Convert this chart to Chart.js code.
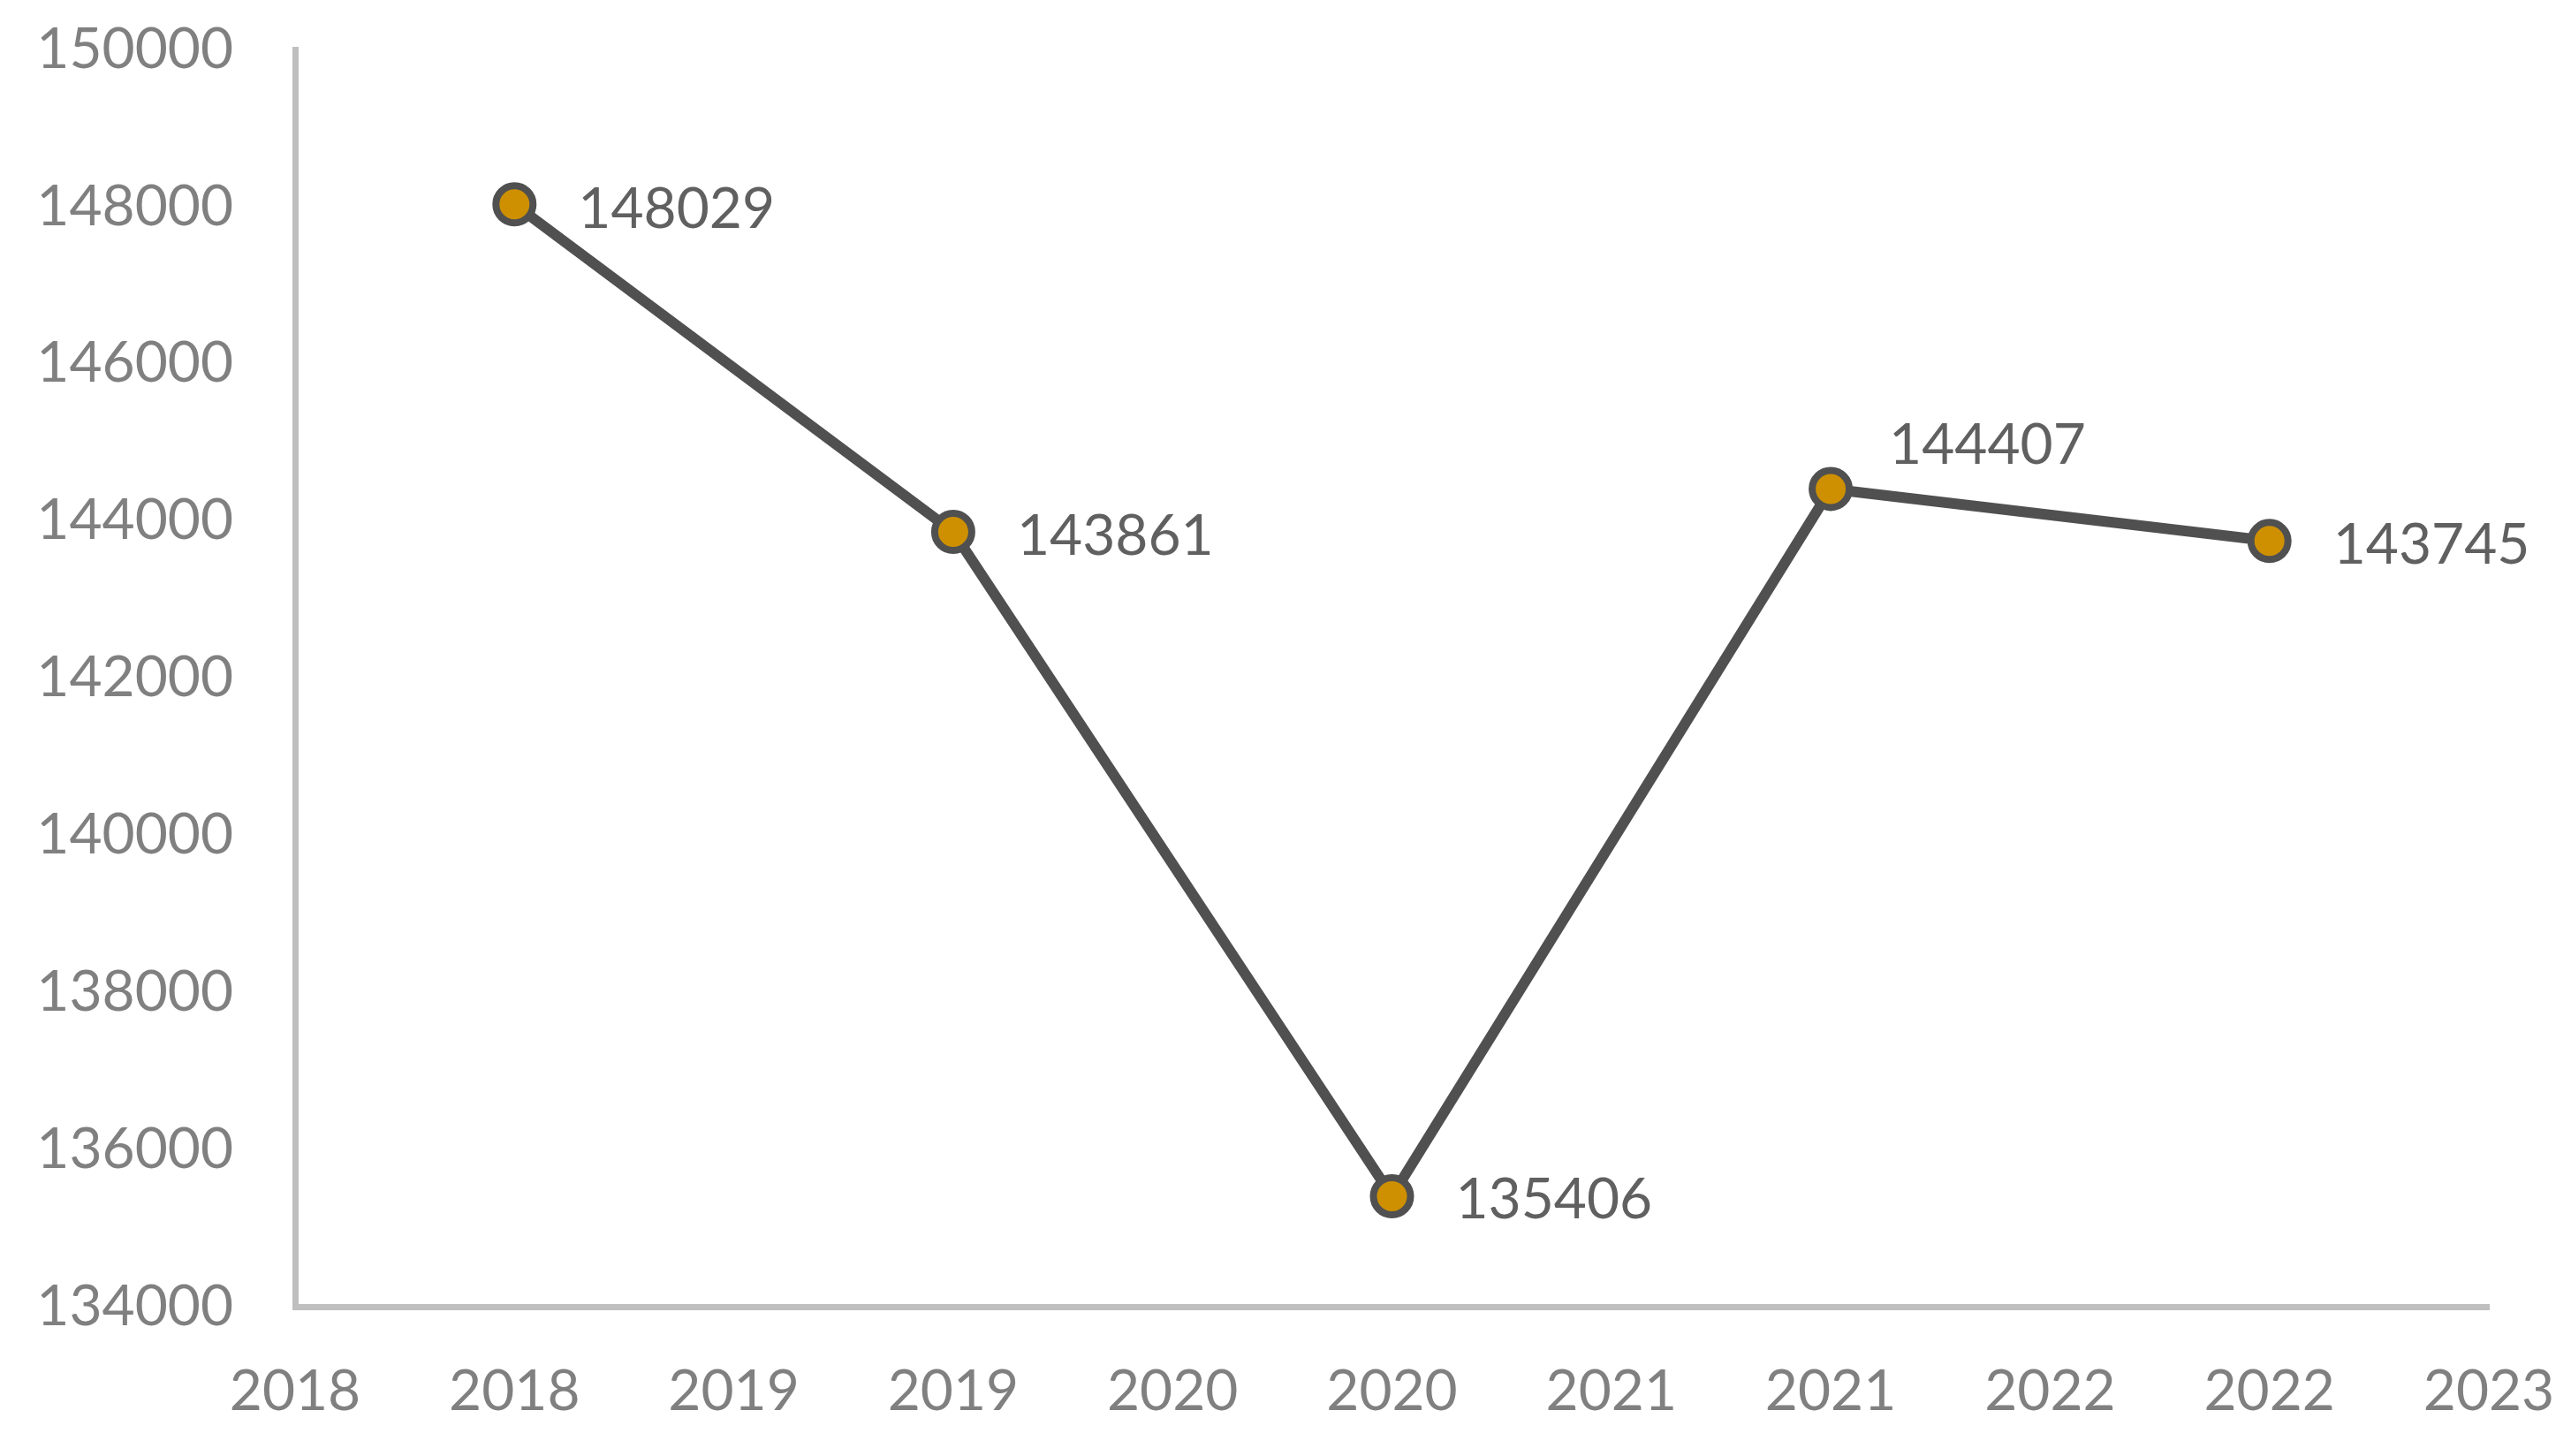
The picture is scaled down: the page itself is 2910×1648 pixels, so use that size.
<!DOCTYPE html>
<html>
<head>
<meta charset="utf-8">
<script src="https://cdn.jsdelivr.net/npm/chart.js@4.4.1/dist/chart.umd.min.js"></script>
<style>
  html, body { margin: 0; padding: 0; background: #ffffff; }
  #wrap { width: 2910px; height: 1648px; }
</style>
</head>
<body>
<div id="wrap"><canvas id="c" width="2910" height="1648"></canvas></div>
<script>
// ---- data ----
const years = [2018.5, 2019.5, 2020.5, 2021.5, 2022.5];
const values = [148029, 143861, 135406, 144407, 143745];
const xTickLabels = ["2018", "2018", "2019", "2019", "2020", "2020", "2021", "2021", "2022", "2022", "2023"];
const yMin = 134000, yMax = 150000, yStep = 2000;
const xMin = 2018, xMax = 2023, xStep = 0.5;

const points = years.map((x, i) => ({ x: x, y: values[i] }));

const FONT = "Lato, 'Open Sans', sans-serif";

const valueLabels = {
  id: 'valueLabels',
  afterDatasetsDraw(chart, args, opts) {
    const ctx = chart.ctx;
    const meta = chart.getDatasetMeta(0);
    ctx.save();
    ctx.font = opts.size + 'px ' + FONT;
    ctx.fillStyle = opts.color;
    ctx.textAlign = 'left';
    ctx.textBaseline = 'alphabetic';
    meta.data.forEach((el, i) => {
      const txt = String(values[i]);
      const m = ctx.measureText(txt);
      const h = m.actualBoundingBoxAscent;
      const off = opts.offsets[i];
      ctx.fillText(txt, el.x + off[0], el.y + off[1] + h / 2);
    });
    ctx.restore();
  }
};

new Chart(document.getElementById('c'), {
  type: 'line',
  data: {
    datasets: [{
      data: points,
      borderColor: '#505050',
      borderWidth: 12,
      pointRadius: 21,
      pointBorderWidth: 8,
      pointBackgroundColor: '#CE9000',
      pointBorderColor: '#505050',
      tension: 0,
      fill: false,
      clip: false
    }]
  },
  options: {
    responsive: false,
    animation: false,
    layout: { autoPadding: false, padding: { top: 56, right: 93, left: 0, bottom: 0 } },
    plugins: {
      legend: { display: false },
      tooltip: { enabled: false },
      valueLabels: {
        size: 64,
        color: '#606060',
        offsets: [[72, 3], [72, 3], [72, 2], [66, -52], [72, 2]]
      }
    },
    scales: {
      x: {
        type: 'linear',
        min: xMin,
        max: xMax,
        afterBuildTicks(scale) {
          const t = [];
          for (let v = xMin; v <= xMax + 1e-9; v += xStep) t.push({ value: v });
          scale.ticks = t;
        },
        afterFit(scale) {
          scale.height = 169;
          scale.paddingLeft = 0; scale.paddingRight = 0;
        },
        grid: { display: false, drawTicks: false },
        border: { display: true, color: '#bfbfbf', width: 7 },
        ticks: {
          autoSkip: false,
          maxRotation: 0,
          padding: 58,
          color: '#808080',
          font: { family: FONT, size: 64 },
          callback: (v, i) => xTickLabels[i]
        }
      },
      y: {
        min: yMin,
        max: yMax,
        afterFit(scale) {
          scale.width = 334;
          scale.paddingTop = 0; scale.paddingBottom = 0;
        },
        grid: { display: false, drawTicks: false },
        border: { display: true, color: '#bfbfbf', width: 7 },
        ticks: {
          stepSize: yStep,
          padding: 70,
          color: '#808080',
          font: { family: FONT, size: 64 },
          callback: (v) => String(v)
        }
      }
    }
  },
  plugins: [valueLabels]
});
</script>
</body>
</html>
